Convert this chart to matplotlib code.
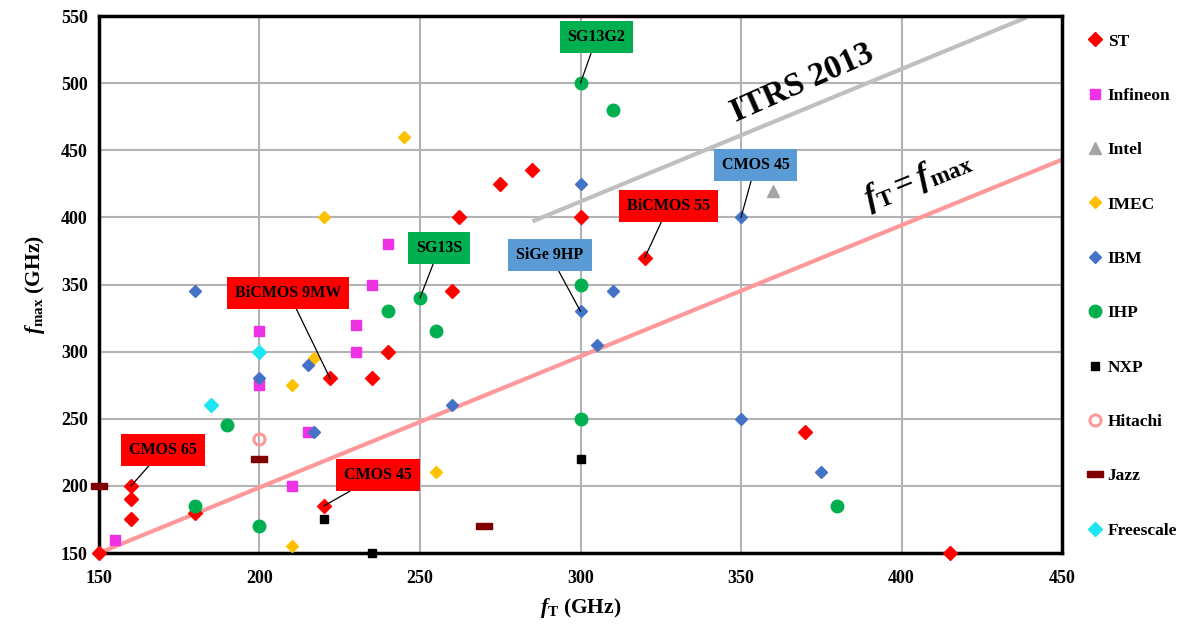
"""fmax vs fT of SiGe/CMOS technologies"""
import matplotlib
matplotlib.use('Agg')
import matplotlib.pyplot as plt

# datos por fabricante (fT, fmax) en GHz
st_ft = [150, 160, 160, 160, 180, 220, 222, 235, 240, 260, 262, 275, 285, 300, 320, 370, 415]
st_fmax = [150, 200, 190, 175, 180, 185, 280, 280, 300, 345, 400, 425, 435, 400, 370, 240, 150]

infineon_ft = [155, 200, 200, 210, 215, 230, 230, 235, 240]
infineon_fmax = [160, 275, 315, 200, 240, 320, 300, 350, 380]

intel_ft = [360]
intel_fmax = [420]

imec_ft = [210, 210, 217, 220, 245, 255]
imec_fmax = [155, 275, 295, 400, 460, 210]

ibm_ft = [180, 200, 215, 217, 260, 300, 300, 305, 310, 350, 350, 375]
ibm_fmax = [345, 280, 290, 240, 260, 330, 425, 305, 345, 400, 250, 210]

ihp_ft = [180, 190, 200, 240, 250, 255, 300, 300, 300, 310, 380]
ihp_fmax = [185, 245, 170, 330, 340, 315, 350, 250, 500, 480, 185]

nxp_ft = [220, 235, 300]
nxp_fmax = [175, 150, 220]

hitachi_ft = [200]
hitachi_fmax = [235]

jazz_ft = [150, 200, 270]
jazz_fmax = [200, 220, 170]

freescale_ft = [185, 200]
freescale_fmax = [260, 300]

# rectas de referencia
itrs_ft = [285, 439]
itrs_fmax = [397, 549]
ref_ft = [150, 450]
ref_fmax = [150, 443]

# anotaciones: texto, punto señalado
notas = ['SG13G2', 'SG13S', 'BiCMOS 9MW', 'CMOS 65', 'CMOS 45', 'SiGe 9HP', 'BiCMOS 55', 'CMOS 45']
notas_ft = [300, 250, 222, 160, 220, 300, 320, 350]
notas_fmax = [500, 340, 280, 200, 185, 330, 370, 400]


def main():
    plt.rcParams['font.family'] = ['Liberation Serif', 'DejaVu Serif']
    plt.rcParams['font.weight'] = 'bold'
    plt.rcParams['mathtext.fontset'] = 'custom'
    plt.rcParams['mathtext.rm'] = 'Liberation Serif:bold'
    plt.rcParams['mathtext.it'] = 'Liberation Serif:italic:bold'
    plt.rcParams['mathtext.bf'] = 'Liberation Serif:bold'

    fig = plt.figure(figsize=(12.01, 6.30), dpi=100)
    ax = fig.add_axes([0.0824, 0.1222, 0.8019, 0.8524])

    # rectas
    ax.plot(ref_ft, ref_fmax, color='#FF9999', lw=3, zorder=2, solid_capstyle='butt')
    ax.plot(itrs_ft, itrs_fmax, color='#BFBFBF', lw=3, zorder=2, solid_capstyle='butt')

    jazz_marker = [(-1, -0.45), (1, -0.45), (1, 0.45), (-1, 0.45), (-1, -0.45)]
    series = [
        ('ST', st_ft, st_fmax, dict(marker='D', ms=7, color='#FF0000')),
        ('Infineon', infineon_ft, infineon_fmax, dict(marker='s', ms=7.5, color='#F032E6')),
        ('Intel', intel_ft, intel_fmax, dict(marker='^', ms=9, color='#A5A5A5')),
        ('IMEC', imec_ft, imec_fmax, dict(marker='D', ms=6, color='#FFC000')),
        ('IBM', ibm_ft, ibm_fmax, dict(marker='D', ms=6, color='#4472C4')),
        ('IHP', ihp_ft, ihp_fmax, dict(marker='o', ms=9, color='#00B050')),
        ('NXP', nxp_ft, nxp_fmax, dict(marker='s', ms=6, color='#000000')),
        ('Hitachi', hitachi_ft, hitachi_fmax, dict(marker='o', ms=8, color='#FF9999',
                                                   mfc='none', mew=2.2)),
        ('Jazz', jazz_ft, jazz_fmax, dict(marker=jazz_marker, ms=11, color='#800000')),
        ('Freescale', freescale_ft, freescale_fmax, dict(marker='D', ms=7, color='#1EE6F0')),
    ]
    for nombre, xs, ys, estilo in series:
        ax.plot(xs, ys, ls='none', label=nombre, zorder=4, clip_on=False, **estilo)

    # anotaciones con caja de color
    cajas = [(305, 534, '#00B050'), (256, 377, '#00B050'), (209, 344, '#FF0000'),
             (170, 227, '#FF0000'), (237, 208, '#FF0000'), (290.5, 372, '#5B9BD5'),
             (327.5, 408.5, '#FF0000'), (354.5, 439, '#5B9BD5')]
    for texto, x, y, (tx, ty, color) in zip(notas, notas_ft, notas_fmax, cajas):
        ax.annotate(texto, xy=(x, y), xytext=(tx, ty), ha='center', va='center',
                    fontsize=11.5, fontweight='bold', color='black', zorder=6,
                    bbox=dict(boxstyle='square,pad=0.5', fc=color, ec='none'),
                    arrowprops=dict(arrowstyle='-', color='black', lw=0.9,
                                    shrinkA=0, shrinkB=0))

    ax.text(369, 500, 'ITRS 2013', fontsize=24, fontweight='bold', rotation=24,
            ha='center', va='center', zorder=5)
    ax.text(405, 428, r'$f_{\mathrm{T}} = f_{\mathrm{max}}$', fontsize=24,
            rotation=22, ha='center', va='center', zorder=5)

    # ejes
    ax.set_xlim(150, 450)
    ax.set_ylim(150, 550)
    ax.set_xticks(range(150, 451, 50))
    ax.set_yticks(range(150, 551, 50))
    ax.tick_params(axis='x', length=0, labelsize=13, pad=12)
    ax.tick_params(axis='y', length=0, labelsize=13, pad=8)
    for lbl in ax.get_xticklabels() + ax.get_yticklabels():
        lbl.set_fontweight('bold')
    ax.grid(True, color='#B3B3B3', lw=1.5, zorder=0)
    ax.set_axisbelow(True)
    for spine in ax.spines.values():
        spine.set_linewidth(2.5)
        spine.set_color('black')
    ax.set_xlabel(r'$f_{\mathrm{T}}$ (GHz)', fontsize=15.5, fontweight='bold', labelpad=7)
    ax.set_ylabel(r'$f_{\mathrm{max}}$ (GHz)', fontsize=15.5, fontweight='bold', labelpad=10)

    fig.legend(loc='center left', bbox_to_anchor=(0.902, 0.546), frameon=False,
               prop=dict(size=12.5, weight='bold'), labelspacing=2.2,
               handlelength=0.6, handletextpad=0.4, borderaxespad=0)

    fig.savefig('out.png', dpi=100)
    plt.close(fig)


if __name__ == '__main__':
    main()
